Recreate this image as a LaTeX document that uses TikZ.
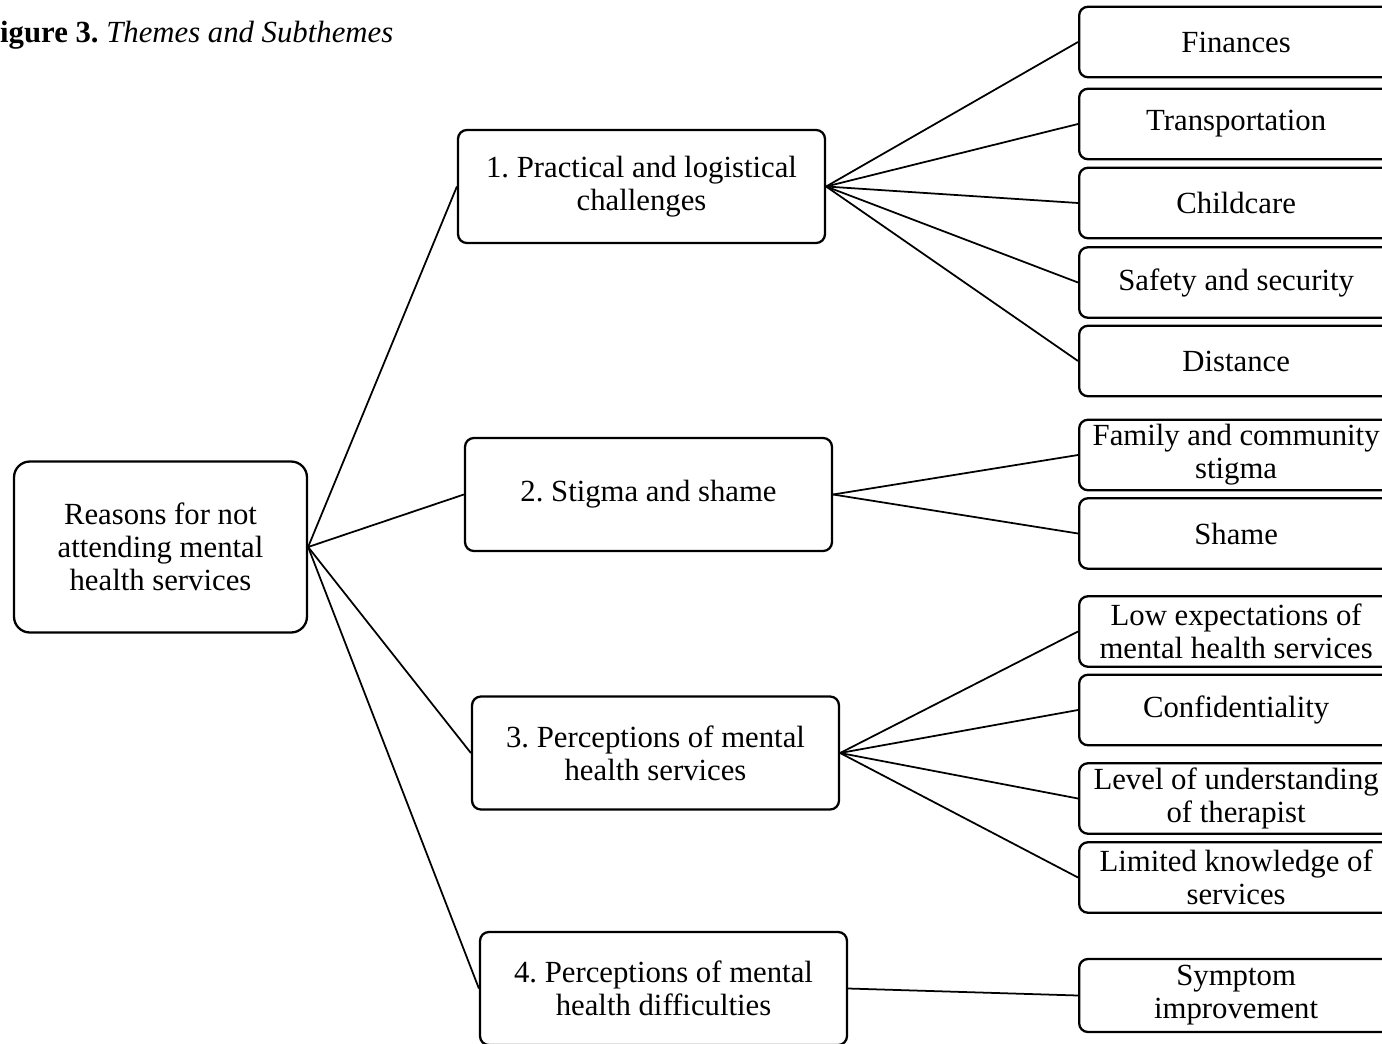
\documentclass[tikz,border=0pt]{standalone}
\usepackage{fontspec}
\setmainfont{Liberation Serif}
\usepackage{tikz}
\frenchspacing

\begin{document}
\begin{tikzpicture}[x=0.02cm,y=-0.02cm,font=\fontsize{17.5}{18.8}\selectfont,
        boite/.style={draw,line width=1.3pt,rounded corners=5pt,align=center,inner sep=1pt},
        theme/.style={boite,minimum width=7.34cm,minimum height=2.26cm},
        sous/.style={boite,anchor=west,minimum width=6.28cm,minimum height=1.41cm},
        lien/.style={line width=1pt}]
        \useasboundingbox (0,0) rectangle (1382,1044);
        % Titre
        \node[anchor=base west,inner sep=0pt] (titre) at (-19,43) {\textbf{Figure 3.} \textit{Themes and Subthemes}};
        % Racine
        \node[boite,rounded corners=9pt,minimum width=5.86cm,minimum height=3.42cm] (racine) at (160.5,547) {Reasons for not\\attending mental\\health services};
        % Themes
        \node[theme] (t1) at (641.5,186.5) {1. Practical and logistical\\challenges};
        \node[theme] (t2) at (648.5,494.5) {2. Stigma and shame};
        \node[theme] (t3) at (655.5,753) {3. Perceptions of mental\\health services};
        \node[theme] (t4) at (663.5,988.5) {4. Perceptions of mental\\health difficulties};
        % Sous-themes
        \node[sous] (s1) at (1078,42) {Finances};
        \node[sous] (s2) at (1078,124) {Transportation};
        \node[sous] (s3) at (1078,203) {Childcare};
        \node[sous] (s4) at (1078,282.5) {Safety and security};
        \node[sous] (s5) at (1078,361) {Distance};
        \node[sous] (s6) at (1078,455) {Family and community\\stigma};
        \node[sous] (s7) at (1078,533.5) {Shame};
        \node[sous] (s8) at (1078,631.5) {Low expectations of\\mental health services};
        \node[sous] (s9) at (1078,710) {Confidentiality};
        \node[sous] (s10) at (1078,798.5) {Level of understanding\\of therapist};
        \node[sous] (s11) at (1078,877.5) {Limited knowledge of\\services};
        \node[sous,minimum height=1.46cm] (s12) at (1078,995.5) {Symptom\\improvement};
        % Liens
        \foreach \t in {t1,t2,t3,t4}
            \draw[lien] (racine.east) -- (\t.west);
        \foreach \s in {s1,s2,s3,s4,s5}
            \draw[lien] (t1.east) -- (\s.west);
        \foreach \s in {s6,s7}
            \draw[lien] (t2.east) -- (\s.west);
        \foreach \s in {s8,s9,s10,s11}
            \draw[lien] (t3.east) -- (\s.west);
        \draw[lien] (t4.east) -- (s12.west);
\end{tikzpicture}
\end{document}
